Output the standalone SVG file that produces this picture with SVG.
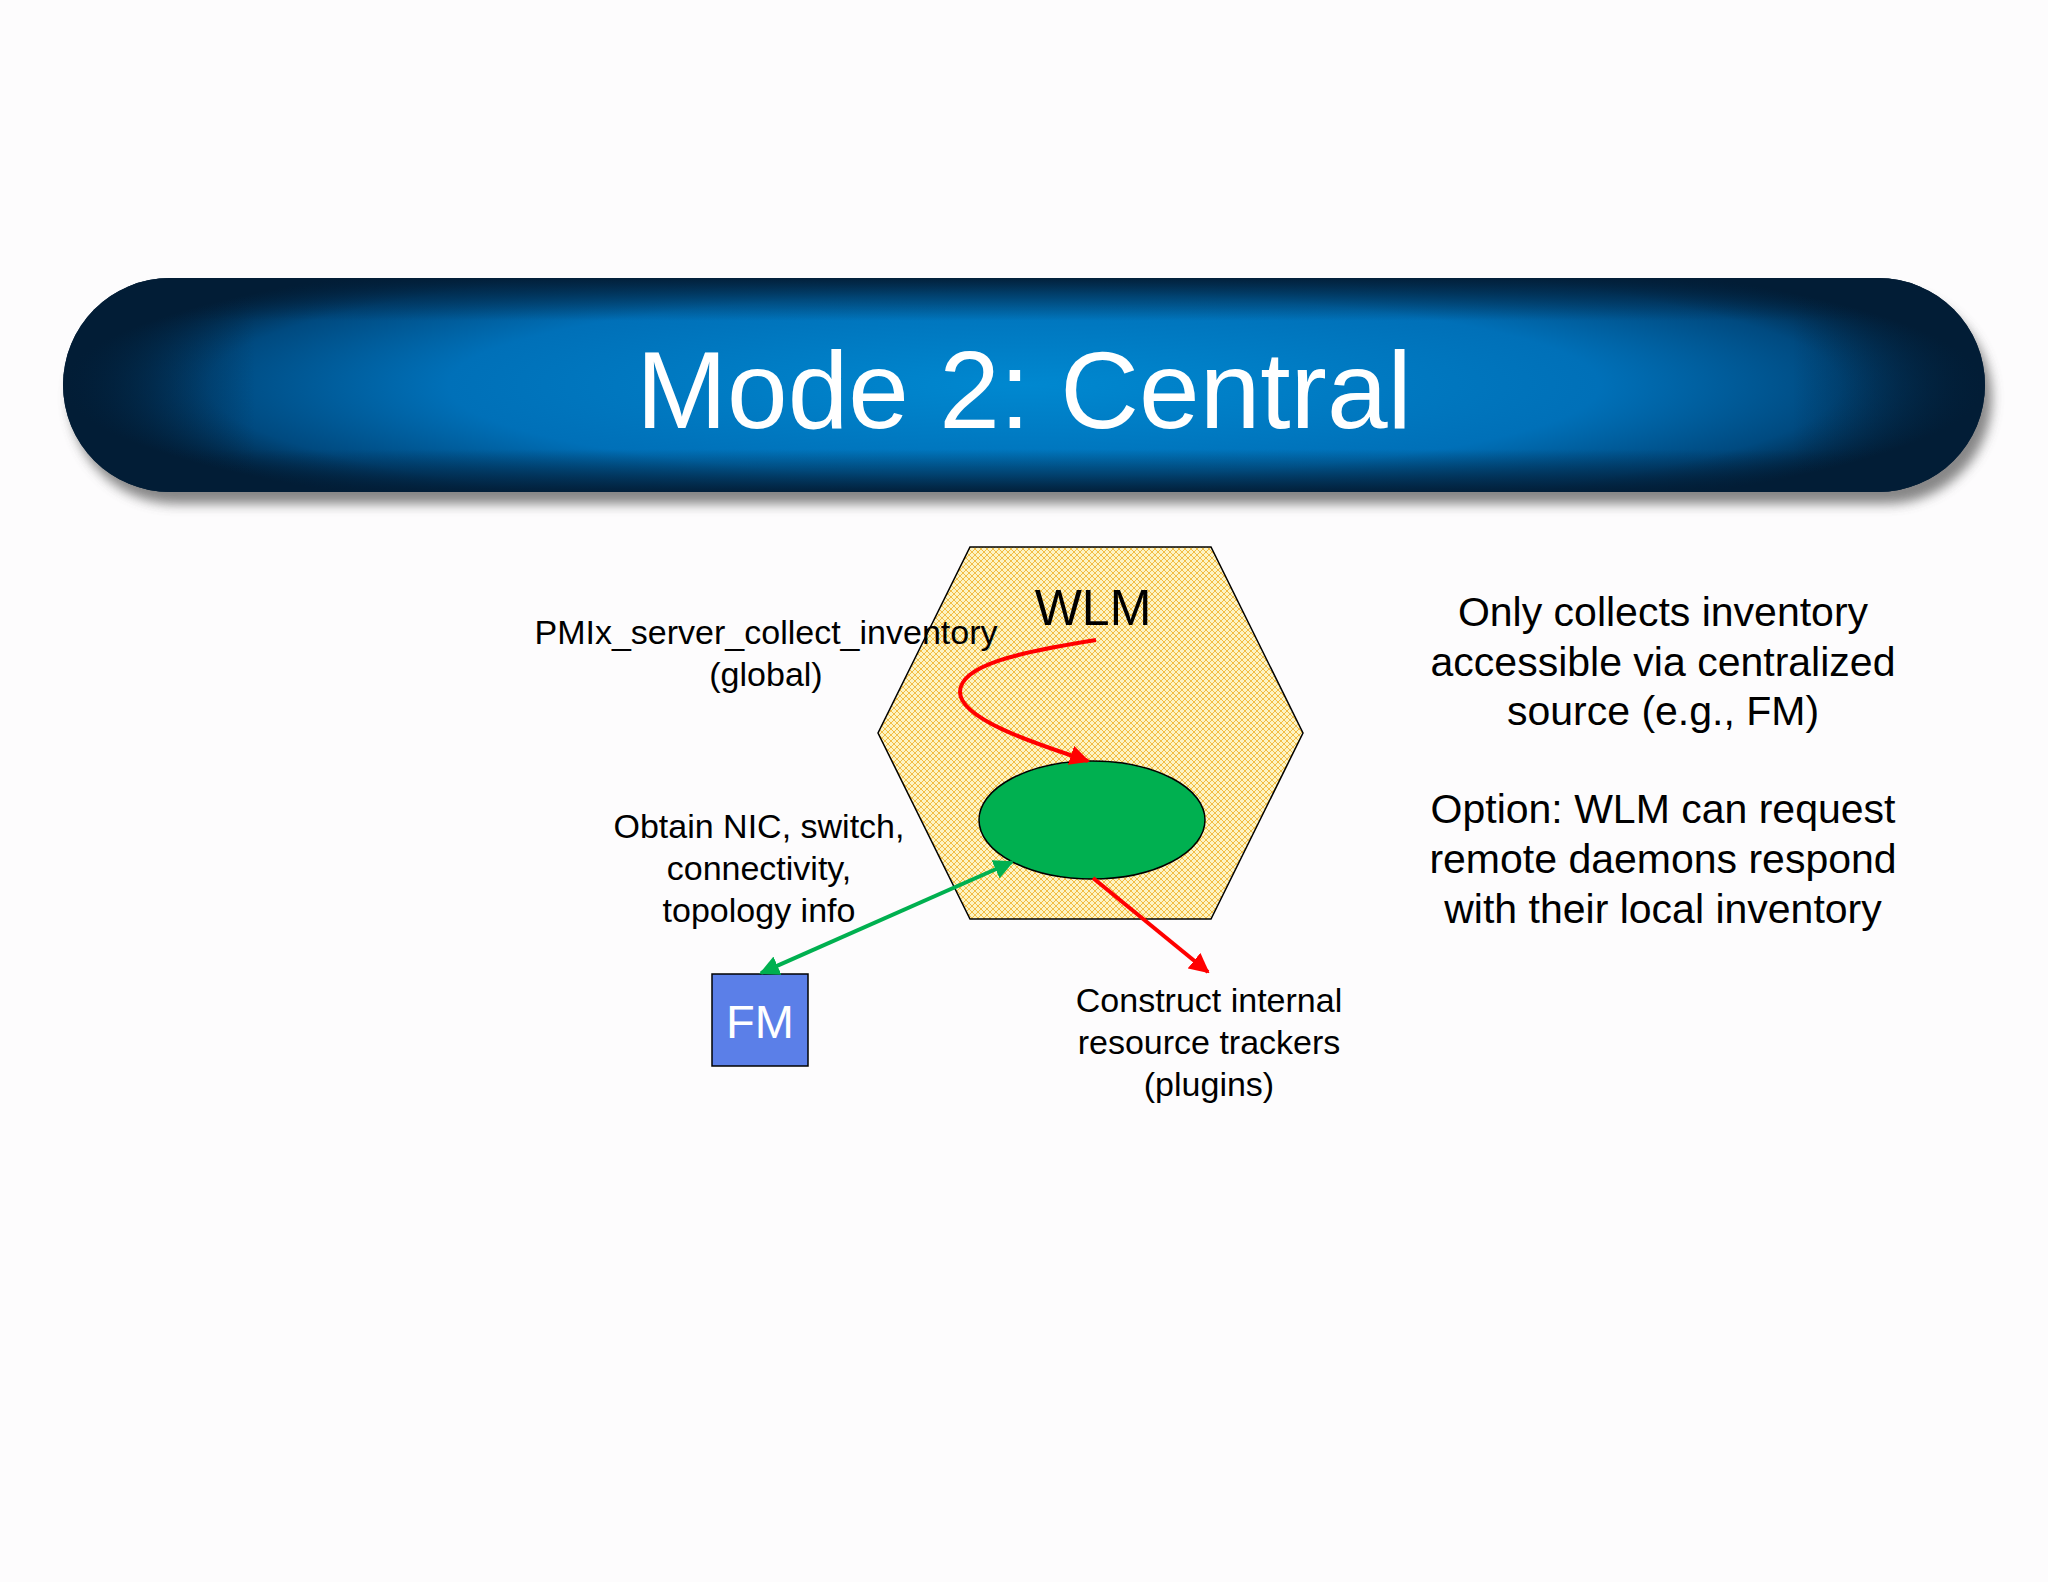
<svg xmlns="http://www.w3.org/2000/svg" width="2048" height="1582" viewBox="0 0 2048 1582">
<defs>
<radialGradient id="bg" gradientUnits="userSpaceOnUse" cx="1024" cy="385" r="960" gradientTransform="translate(1024 385) scale(1 0.16) translate(-1024 -385)">
<stop offset="0" stop-color="#0088d0"/><stop offset="0.6" stop-color="#0070b8"/><stop offset="0.85" stop-color="#004a80"/><stop offset="1" stop-color="#021d36"/>
</radialGradient>
<linearGradient id="vg" x1="0" y1="0" x2="0" y2="1">
<stop offset="0" stop-color="#021d36" stop-opacity="0.95"/><stop offset="0.2" stop-color="#021d36" stop-opacity="0"/><stop offset="0.8" stop-color="#021d36" stop-opacity="0"/><stop offset="1" stop-color="#021d36" stop-opacity="0.95"/>
</linearGradient>
<linearGradient id="hg" x1="0" y1="0" x2="1" y2="0">
<stop offset="0" stop-color="#021d36" stop-opacity="0.95"/><stop offset="0.1" stop-color="#021d36" stop-opacity="0"/><stop offset="0.9" stop-color="#021d36" stop-opacity="0"/><stop offset="1" stop-color="#021d36" stop-opacity="0.95"/>
</linearGradient>
<pattern id="hatch" width="6" height="6" patternUnits="userSpaceOnUse">
<rect width="6" height="6" fill="#fdf4c4"/>
<path d="M0 0L6 6M6 0L0 6" stroke="#f2bd45" stroke-width="1"/>
</pattern>
<filter id="sh" x="-5%" y="-20%" width="110%" height="150%"><feGaussianBlur stdDeviation="6"/></filter>
<marker id="ar" viewBox="0 0 10 10" refX="9" refY="5" markerWidth="5" markerHeight="5" orient="auto-start-reverse"><path d="M0 0L10 5L0 10z" fill="#ff0000"/></marker>
<marker id="ag" viewBox="0 0 10 10" refX="9" refY="5" markerWidth="5" markerHeight="5" orient="auto-start-reverse"><path d="M0 0L10 5L0 10z" fill="#00b050"/></marker>
<style>
text{font-family:"Liberation Sans",Arial,sans-serif;fill:#000}
.l{font-size:34px;text-anchor:middle}
.r{font-size:41px;text-anchor:middle}
</style>
</defs>
<rect width="2048" height="1582" fill="#fdfcfd"/>
<g id="banner">
<rect x="70" y="292" width="1922" height="212" rx="106" fill="#555" opacity="0.7" filter="url(#sh)"/>
<rect x="63" y="278" width="1922" height="214" rx="107" fill="url(#bg)"/>
<rect x="63" y="278" width="1922" height="214" rx="107" fill="url(#vg)"/>
<rect x="63" y="278" width="1922" height="214" rx="107" fill="url(#hg)"/>
<text x="1024" y="428" font-size="109" text-anchor="middle" style="fill:#fff">Mode 2: Central</text>
</g>
<g id="wlm">
<polygon points="970,547 1211,547 1303,733 1211,919 970,919 878,733" fill="url(#hatch)" stroke="#000" stroke-width="1.5"/>
<text x="1093" y="625" font-size="50" text-anchor="middle">WLM</text>
</g>
<g id="core">
<ellipse cx="1092" cy="820" rx="113" ry="59" fill="#00b050" stroke="#000" stroke-width="1.5"/>
</g>
<g id="fm">
<rect x="712" y="974" width="96" height="92" fill="#5b7fe8" stroke="#000" stroke-width="1.5"/>
<text x="760" y="1038" font-size="47" text-anchor="middle" style="fill:#fff">FM</text>
</g>
<g id="connectors" fill="none" stroke-width="4">
<path d="M1096 640 C1020 652 960 665 960 692 C960 720 1040 745 1088 761" stroke="#ff0000" marker-end="url(#ar)"/>
<path d="M1093 878 L1208 972" stroke="#ff0000" marker-end="url(#ar)"/>
<path d="M1012 862 L761 973" stroke="#00b050" marker-start="url(#ag)" marker-end="url(#ag)"/>
</g>
<g id="labels">
<text class="l" x="766" y="644">PMIx_server_collect_inventory</text>
<text class="l" x="766" y="686">(global)</text>
<text class="l" x="759" y="838">Obtain NIC, switch,</text>
<text class="l" x="759" y="880">connectivity,</text>
<text class="l" x="759" y="922">topology info</text>
<text class="l" x="1209" y="1012">Construct internal</text>
<text class="l" x="1209" y="1054">resource trackers</text>
<text class="l" x="1209" y="1096">(plugins)</text>
<text class="r" x="1663" y="626">Only collects inventory</text>
<text class="r" x="1663" y="676">accessible via centralized</text>
<text class="r" x="1663" y="725">source (e.g., FM)</text>
<text class="r" x="1663" y="823">Option: WLM can request</text>
<text class="r" x="1663" y="873">remote daemons respond</text>
<text class="r" x="1663" y="923">with their local inventory</text>
</g>
</svg>
